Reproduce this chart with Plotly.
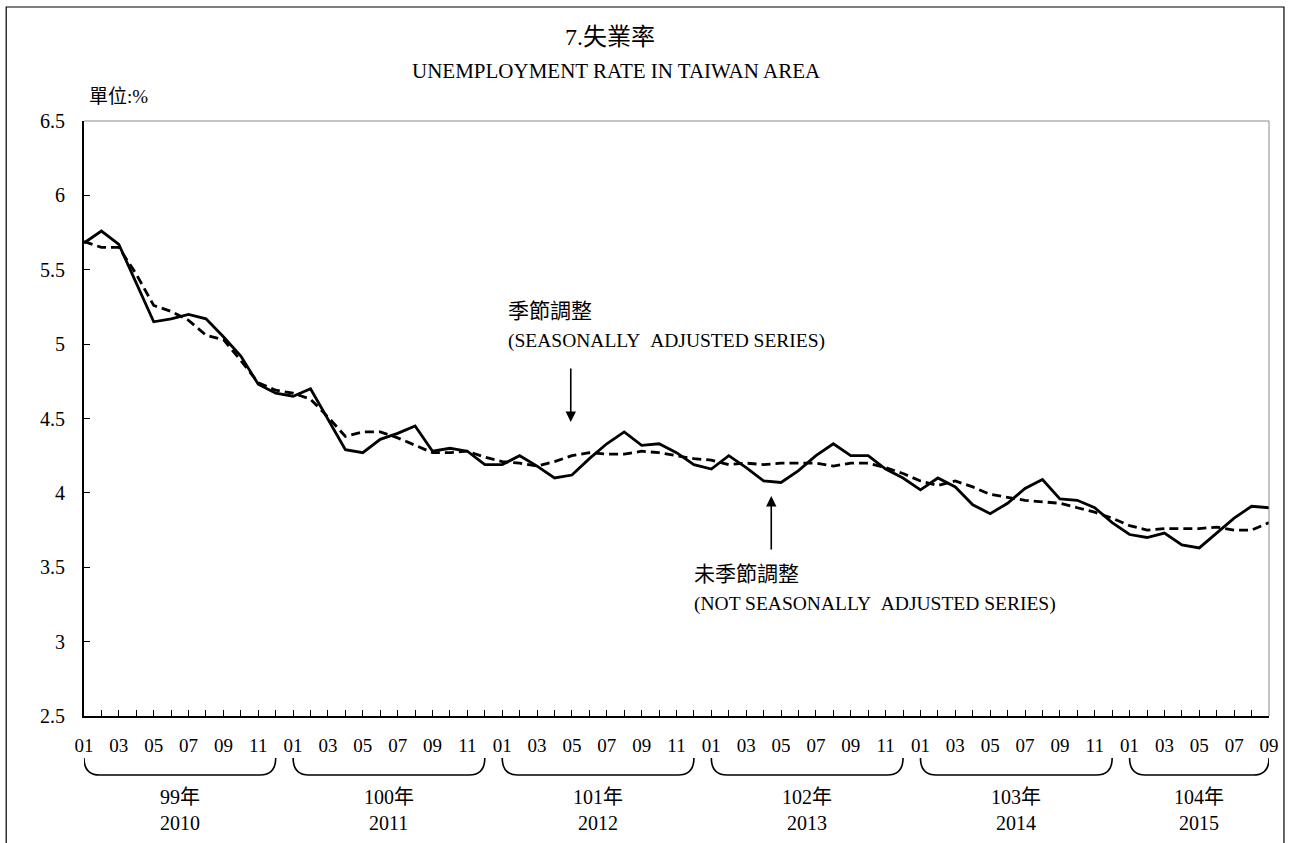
import plotly.graph_objects as go

# ---------------- data ----------------
month_labels = ["01", "02", "03", "04", "05", "06", "07", "08", "09", "10", "11", "12"] * 5 + \
               ["01", "02", "03", "04", "05", "06", "07", "08", "09"]

not_seasonally_adjusted = [
    5.68, 5.76, 5.67, 5.41, 5.15, 5.17, 5.20, 5.17, 5.05, 4.92, 4.73, 4.67,   # 2010
    4.65, 4.70, 4.49, 4.29, 4.27, 4.36, 4.40, 4.45, 4.28, 4.30, 4.28, 4.19,   # 2011
    4.19, 4.25, 4.18, 4.10, 4.12, 4.23, 4.33, 4.41, 4.32, 4.33, 4.27, 4.19,   # 2012
    4.16, 4.25, 4.17, 4.08, 4.07, 4.15, 4.25, 4.33, 4.25, 4.25, 4.16, 4.10,   # 2013
    4.02, 4.10, 4.04, 3.92, 3.86, 3.93, 4.03, 4.09, 3.96, 3.95, 3.90, 3.80,   # 2014
    3.72, 3.70, 3.73, 3.65, 3.63, 3.73, 3.83, 3.91, 3.90,                     # 2015
]

seasonally_adjusted = [
    5.69, 5.65, 5.65, 5.47, 5.26, 5.22, 5.16, 5.06, 5.03, 4.89, 4.74, 4.69,   # 2010
    4.67, 4.63, 4.51, 4.38, 4.41, 4.41, 4.37, 4.32, 4.27, 4.27, 4.28, 4.24,   # 2011
    4.21, 4.20, 4.18, 4.21, 4.25, 4.27, 4.26, 4.26, 4.28, 4.27, 4.25, 4.23,   # 2012
    4.22, 4.19, 4.20, 4.19, 4.20, 4.20, 4.20, 4.18, 4.20, 4.20, 4.17, 4.13,   # 2013
    4.08, 4.05, 4.08, 4.04, 3.99, 3.97, 3.95, 3.94, 3.93, 3.90, 3.87, 3.83,   # 2014
    3.78, 3.75, 3.76, 3.76, 3.76, 3.77, 3.75, 3.75, 3.80,                     # 2015
]

roc_years = ["99年", "100年", "101年", "102年", "103年", "104年"]
ad_years = ["2010", "2011", "2012", "2013", "2014", "2015"]

y_ticks = [2.5, 3, 3.5, 4, 4.5, 5, 5.5, 6, 6.5]
y_ticktext = ["2.5", "3", "3.5", "4", "4.5", "5", "5.5", "6", "6.5"]

title_zh = "7.失業率"
title_en = "UNEMPLOYMENT RATE IN TAIWAN AREA"
unit_label = "單位:%"
sa_label = ["季節調整", "(SEASONALLY&nbsp;&nbsp;ADJUSTED SERIES)"]
nsa_label = ["未季節調整", "(NOT SEASONALLY&nbsp;&nbsp;ADJUSTED SERIES)"]

# ---------------- figure ----------------
FONT = "Liberation Serif, 'Times New Roman', 'Noto Sans CJK TC', serif"
W, H = 1291, 843
L, R, T, B = 84, 19, 121, 127
PW, PH = W - L - R, H - T - B

n = len(month_labels)
x = list(range(n))

fig = go.Figure()
fig.add_trace(go.Scatter(x=x, y=not_seasonally_adjusted, mode="lines",
                         line=dict(color="black", width=2.8), name="NSA",
                         showlegend=False, hoverinfo="skip"))
fig.add_trace(go.Scatter(x=x, y=seasonally_adjusted, mode="lines",
                         line=dict(color="black", width=2.8, dash="9px,5px"), name="SA",
                         showlegend=False, hoverinfo="skip"))

tickvals = x
ticktext = [lab if i % 2 == 0 else "" for i, lab in enumerate(month_labels)]


def px_to_paper_x(px):
    return (px - L) / PW


def px_to_paper_y(py):
    return (H - B - py) / PH


shapes = []
# outer frame
shapes.append(dict(type="rect", xref="paper", yref="paper",
                   x0=px_to_paper_x(6), x1=px_to_paper_x(1287),
                   y0=px_to_paper_y(860), y1=px_to_paper_y(7),
                   line=dict(color="black", width=1.2), layer="above"))
# top & right plot border (thin grey)
shapes.append(dict(type="line", xref="paper", yref="paper", x0=0, x1=1, y0=1, y1=1,
                   line=dict(color="#8a8a8a", width=1)))
shapes.append(dict(type="line", xref="paper", yref="paper", x0=1, x1=1, y0=0, y1=1,
                   line=dict(color="#8a8a8a", width=1)))

annotations = []
# year braces & labels
yt = px_to_paper_y(758)
yb = px_to_paper_y(775)
for i, (roc, ad) in enumerate(zip(roc_years, ad_years)):
    s = i * 12
    e = min(s + 11, n - 1)
    c = 0.9
    path = (f"M {s},{yt} Q {s},{yb} {s + c},{yb} "
            f"L {e - c},{yb} Q {e},{yb} {e},{yt}")
    shapes.append(dict(type="path", xref="x", yref="paper", path=path,
                       line=dict(color="black", width=1.6)))
    mid = (s + e) / 2
    annotations.append(dict(x=mid, y=px_to_paper_y(797), xref="x", yref="paper",
                            text=roc, showarrow=False, yanchor="middle",
                            font=dict(size=20, family=FONT, color="black")))
    annotations.append(dict(x=mid, y=px_to_paper_y(823), xref="x", yref="paper",
                            text=ad, showarrow=False, yanchor="middle",
                            font=dict(size=20, family=FONT, color="black")))

# titles
annotations.append(dict(x=px_to_paper_x(611), xref="paper", y=px_to_paper_y(37), yref="paper",
                        text=title_zh, showarrow=False, yanchor="middle",
                        xanchor="center", font=dict(size=24, family=FONT, color="black")))
annotations.append(dict(x=px_to_paper_x(618), xref="paper", y=px_to_paper_y(71), yref="paper",
                        text=title_en, showarrow=False, yanchor="middle",
                        xanchor="center", font=dict(size=21, family=FONT, color="black")))
annotations.append(dict(x=px_to_paper_x(87), xref="paper", y=px_to_paper_y(97), yref="paper",
                        text=unit_label, showarrow=False, yanchor="middle",
                        xanchor="left", font=dict(size=19, family=FONT, color="black")))

# series labels
annotations.append(dict(x=px_to_paper_x(507), xref="paper", y=px_to_paper_y(311), yref="paper",
                        text=sa_label[0], showarrow=False, xanchor="left", yanchor="middle",
                        font=dict(size=21, family=FONT, color="black")))
annotations.append(dict(x=px_to_paper_x(507), xref="paper", y=px_to_paper_y(341), yref="paper",
                        text=sa_label[1], showarrow=False, xanchor="left", yanchor="middle",
                        font=dict(size=19.5, family=FONT, color="black")))
annotations.append(dict(x=px_to_paper_x(694), xref="paper", y=px_to_paper_y(574), yref="paper",
                        text=nsa_label[0], showarrow=False, xanchor="left", yanchor="middle",
                        font=dict(size=21, family=FONT, color="black")))
annotations.append(dict(x=px_to_paper_x(694), xref="paper", y=px_to_paper_y(604), yref="paper",
                        text=nsa_label[1], showarrow=False, xanchor="left", yanchor="middle",
                        font=dict(size=19.5, family=FONT, color="black")))

# arrows
annotations.append(dict(x=px_to_paper_x(572), xref="paper", y=px_to_paper_y(422), yref="paper",
                        ax=0, ay=-55, text="", showarrow=True, arrowhead=2,
                        arrowsize=1.3, arrowwidth=1.6, arrowcolor="black"))
annotations.append(dict(x=px_to_paper_x(773), xref="paper", y=px_to_paper_y(496), yref="paper",
                        ax=0, ay=55, text="", showarrow=True, arrowhead=2,
                        arrowsize=1.3, arrowwidth=1.6, arrowcolor="black"))

fig.update_layout(
    width=W, height=H,
    margin=dict(l=L, r=R, t=T, b=B, pad=0),
    paper_bgcolor="white", plot_bgcolor="white",
    font=dict(family=FONT, color="black", size=18),
    shapes=shapes, annotations=annotations,
    xaxis=dict(range=[0, n - 1], tickvals=tickvals, ticktext=ticktext,
               ticks="inside", ticklen=6, tickwidth=1.2, tickcolor="black",
               showline=True, linecolor="black", linewidth=2,
               showgrid=False, zeroline=False, ticklabelstandoff=11,
               tickfont=dict(size=19, family=FONT, color="black"), fixedrange=True),
    yaxis=dict(range=[2.5, 6.5], tickvals=y_ticks, ticktext=y_ticktext,
               ticks="inside", ticklen=6, tickwidth=1.2, tickcolor="black",
               showline=True, linecolor="black", linewidth=2,
               showgrid=False, zeroline=False, ticklabelstandoff=13,
               tickfont=dict(size=20, family=FONT, color="black"), fixedrange=True),
)

fig.write_html(
    "out.html",
    config={"displayModeBar": False},
    post_script="document.body.style.margin='0';document.body.style.overflow='hidden';",
)
